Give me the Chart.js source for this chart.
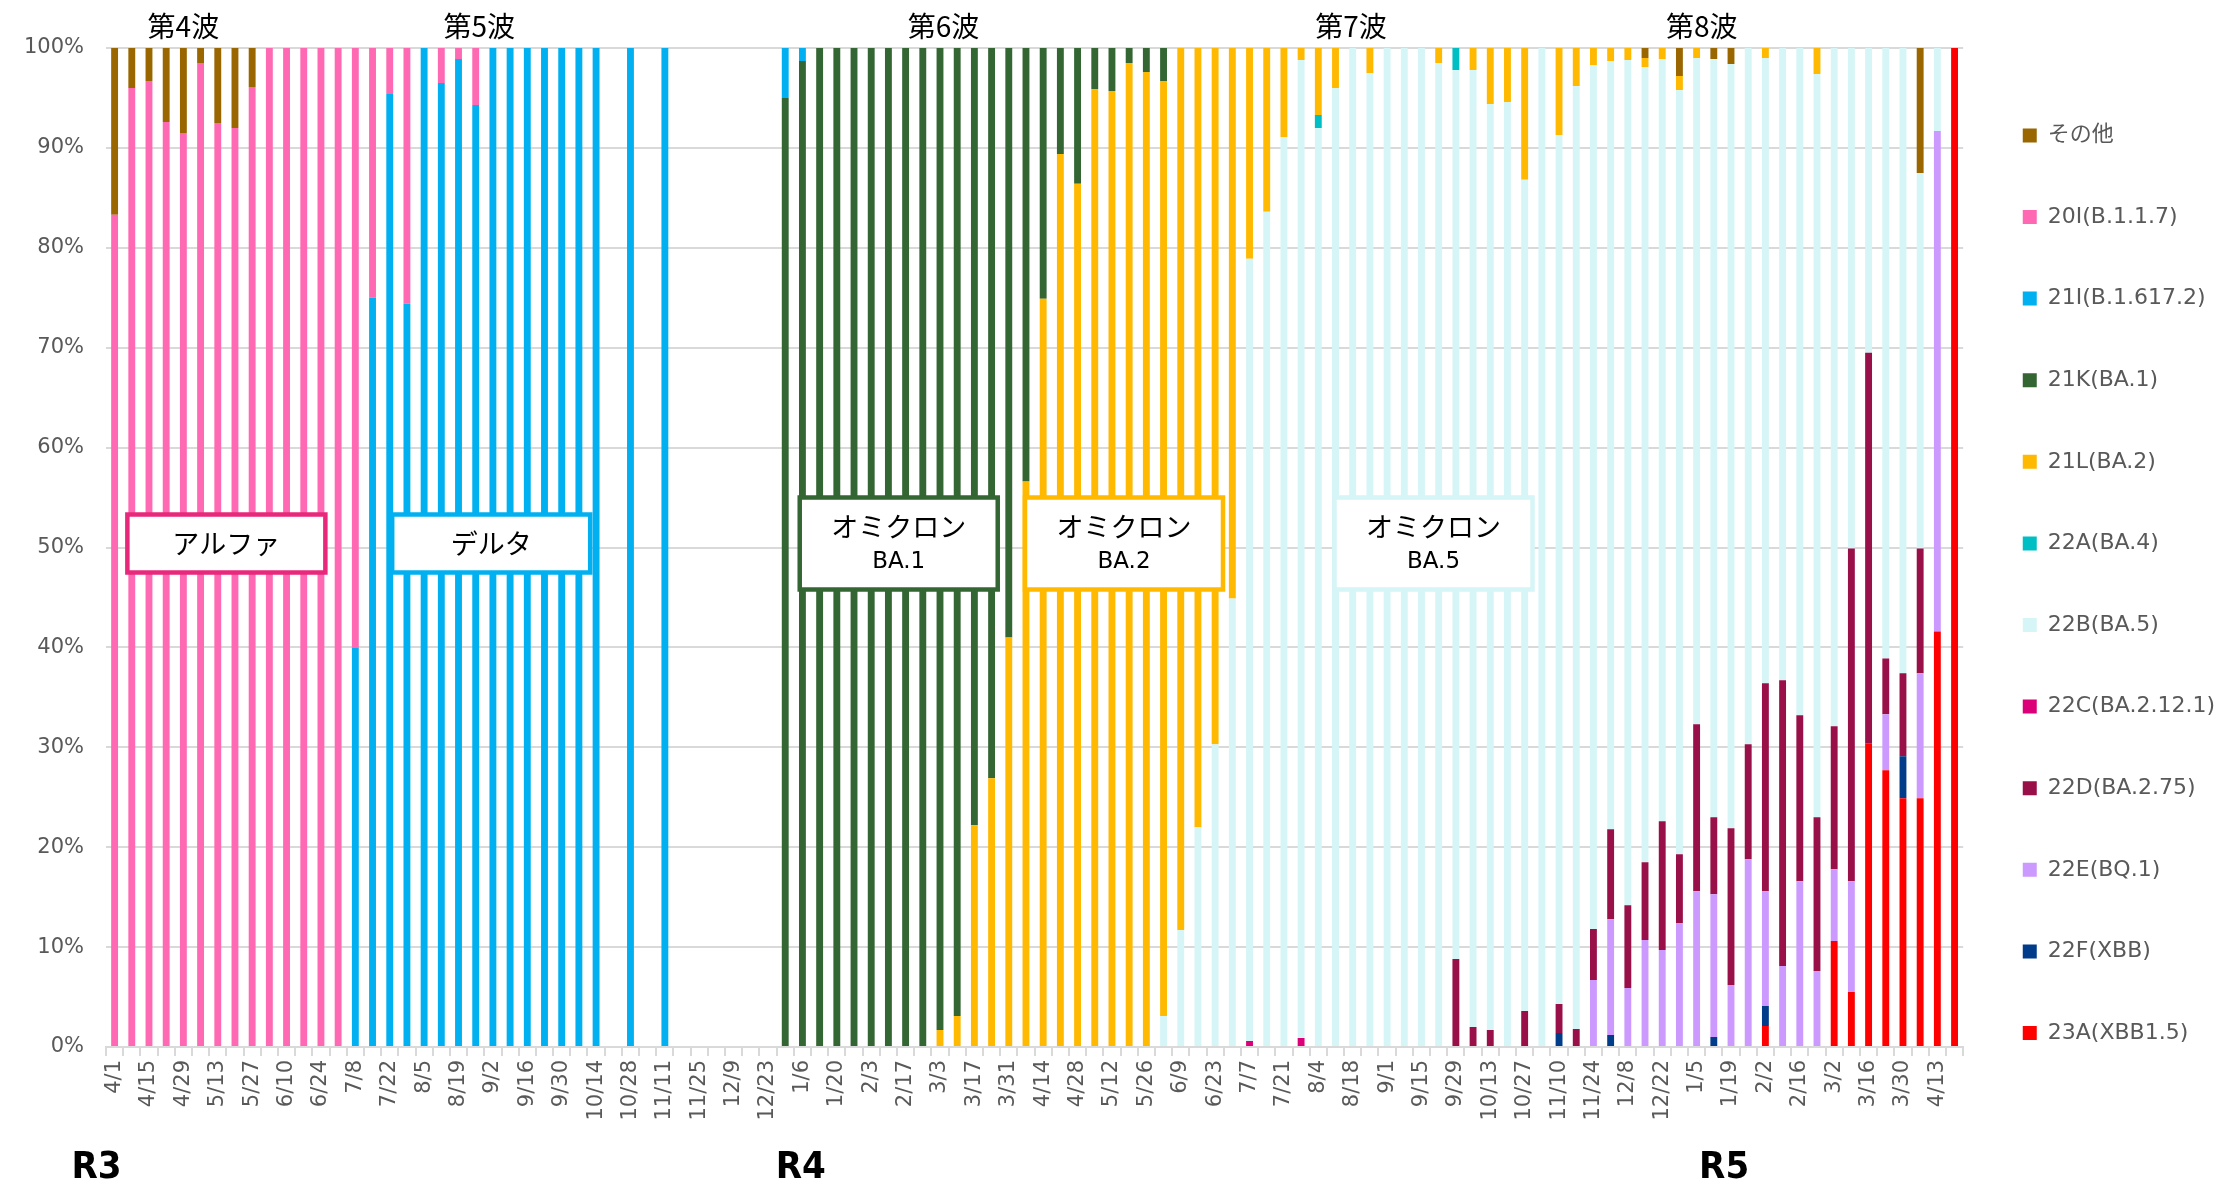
<!DOCTYPE html>
<html>
<head>
<meta charset="utf-8">
<script src="https://cdn.jsdelivr.net/npm/chart.js@4.4.0/dist/chart.umd.min.js"></script>
<style>
html, body { margin: 0; padding: 0; background: #fff; }
#caixa { width: 2225px; height: 1184px; }
</style>
</head>
<body>
<div id="caixa"><canvas id="grafVariantes"></canvas></div>
<script>
var n = null;

/* semanas (R3 4/1 ... R5 4/20) */
var semanas = [
  '4/1','4/8','4/15','4/22','4/29','5/6','5/13','5/20','5/27','6/3',
  '6/10','6/17','6/24','7/1','7/8','7/15','7/22','7/29','8/5','8/12',
  '8/19','8/26','9/2','9/9','9/16','9/23','9/30','10/7','10/14','10/21',
  '10/28','11/4','11/11','11/18','11/25','12/2','12/9','12/16','12/23','12/30',
  '1/6','1/13','1/20','1/27','2/3','2/10','2/17','2/24','3/3','3/10',
  '3/17','3/24','3/31','4/7','4/14','4/21','4/28','5/5','5/12','5/19',
  '5/26','6/2','6/9','6/16','6/23','6/30','7/7','7/14','7/21','7/28',
  '8/4','8/11','8/18','8/25','9/1','9/8','9/15','9/22','9/29','10/6',
  '10/13','10/20','10/27','11/3','11/10','11/17','11/24','12/1','12/8','12/15',
  '12/22','12/29','1/5','1/12','1/19','1/26','2/2','2/9','2/16','2/23',
  '3/2','3/9','3/16','3/23','3/30','4/6','4/13','4/20'
];

var yTicks = [0,10,20,30,40,50,60,70,80,90,100];

// その他
var outros = [
  16.7,4,3.3,7.4,8.5,1.5,7.5,8.0,3.9,n,
  n,n,n,n,n,n,n,n,n,n,
  n,n,n,n,n,n,n,n,n,n,
  n,n,n,n,n,n,n,n,n,n,
  n,n,n,n,n,n,n,n,n,n,
  n,n,n,n,n,n,n,n,n,n,
  n,n,n,n,n,n,n,n,n,n,
  n,n,n,n,n,n,n,n,n,n,
  n,n,n,n,n,n,n,n,n,1.0,
  n,2.8,n,1.1,1.6,n,n,n,n,n,
  n,n,n,n,n,12.5,n,n
];
// 20I(B.1.1.7)
var alfa = [
  83.3,96,96.7,92.6,91.5,98.5,92.5,92.0,96.1,100,
  100,100,100,100,60,25,4.6,25.6,n,3.5,
  1.1,5.7,n,n,n,n,n,n,n,n,
  n,n,n,n,n,n,n,n,n,n,
  n,n,n,n,n,n,n,n,n,n,
  n,n,n,n,n,n,n,n,n,n,
  n,n,n,n,n,n,n,n,n,n,
  n,n,n,n,n,n,n,n,n,n,
  n,n,n,n,n,n,n,n,n,n,
  n,n,n,n,n,n,n,n,n,n,
  n,n,n,n,n,n,n,n
];
// 21I(B.1.617.2)
var delta = [
  n,n,n,n,n,n,n,n,n,n,
  n,n,n,n,40,75,95.4,74.4,100,96.5,
  98.9,94.3,100,100,100,100,100,100,100,n,
  100,n,100,n,n,n,n,n,n,5,
  1.3,n,n,n,n,n,n,n,n,n,
  n,n,n,n,n,n,n,n,n,n,
  n,n,n,n,n,n,n,n,n,n,
  n,n,n,n,n,n,n,n,n,n,
  n,n,n,n,n,n,n,n,n,n,
  n,n,n,n,n,n,n,n,n,n,
  n,n,n,n,n,n,n,n
];
// 21K(BA.1)
var ba1 = [
  n,n,n,n,n,n,n,n,n,n,
  n,n,n,n,n,n,n,n,n,n,
  n,n,n,n,n,n,n,n,n,n,
  n,n,n,n,n,n,n,n,n,95,
  98.7,100,100,100,100,100,100,100,98.3,96.9,
  77.8,73.1,59,43.4,25.1,10.6,13.6,4.1,4.3,1.5,
  2.4,3.3,n,n,n,n,n,n,n,n,
  n,n,n,n,n,n,n,n,n,n,
  n,n,n,n,n,n,n,n,n,n,
  n,n,n,n,n,n,n,n,n,n,
  n,n,n,n,n,n,n,n
];
// 21L(BA.2)
var ba2 = [
  n,n,n,n,n,n,n,n,n,n,
  n,n,n,n,n,n,n,n,n,n,
  n,n,n,n,n,n,n,n,n,n,
  n,n,n,n,n,n,n,n,n,n,
  n,n,n,n,n,n,n,n,1.7,3.1,
  22.2,26.9,41,56.6,74.9,89.4,86.4,95.9,95.7,98.5,
  97.6,93.6,88.3,78,69.7,55.1,21.1,16.4,8.9,1.2,
  6.7,4.0,n,2.5,n,n,n,1.5,n,2.2,
  5.6,5.4,13.2,n,8.7,3.8,1.7,1.3,1.2,0.9,
  1.1,1.4,1.0,n,n,n,1.0,n,n,2.6,
  n,n,n,n,n,n,n,n
];
// 22A(BA.4)
var ba4 = [
  n,n,n,n,n,n,n,n,n,n,
  n,n,n,n,n,n,n,n,n,n,
  n,n,n,n,n,n,n,n,n,n,
  n,n,n,n,n,n,n,n,n,n,
  n,n,n,n,n,n,n,n,n,n,
  n,n,n,n,n,n,n,n,n,n,
  n,n,n,n,n,n,n,n,n,n,
  1.3,n,n,n,n,n,n,n,2.2,n,
  n,n,n,n,n,n,n,n,n,n,
  n,n,n,n,n,n,n,n,n,n,
  n,n,n,n,n,n,n,n
];
// 22B(BA.5)
var ba5 = [
  n,n,n,n,n,n,n,n,n,n,
  n,n,n,n,n,n,n,n,n,n,
  n,n,n,n,n,n,n,n,n,n,
  n,n,n,n,n,n,n,n,n,n,
  n,n,n,n,n,n,n,n,n,n,
  n,n,n,n,n,n,n,n,n,n,
  n,3.1,11.7,22.0,30.3,44.9,78.3,83.6,91.1,97.9,
  92.0,96.0,100,97.5,100,100,100,98.5,89.0,95.8,
  92.7,94.6,83.2,100,87.0,94.4,86.5,76.9,84.6,79.6,
  76.3,76.5,66.7,75.9,76.5,69.7,62.6,63.3,66.8,74.4,
  67.9,50.1,30.5,61.1,62.6,37.6,8.3,n
];
// 22C(BA.2.12.1)
var ba2121 = [
  n,n,n,n,n,n,n,n,n,n,
  n,n,n,n,n,n,n,n,n,n,
  n,n,n,n,n,n,n,n,n,n,
  n,n,n,n,n,n,n,n,n,n,
  n,n,n,n,n,n,n,n,n,n,
  n,n,n,n,n,n,n,n,n,n,
  n,n,n,n,n,n,0.6,n,n,0.9,
  n,n,n,n,n,n,n,n,n,n,
  n,n,n,n,n,n,n,n,n,n,
  n,n,n,n,n,n,n,n,n,n,
  n,n,n,n,n,n,n,n
];
// 22D(BA.2.75)
var ba275 = [
  n,n,n,n,n,n,n,n,n,n,
  n,n,n,n,n,n,n,n,n,n,
  n,n,n,n,n,n,n,n,n,n,
  n,n,n,n,n,n,n,n,n,n,
  n,n,n,n,n,n,n,n,n,n,
  n,n,n,n,n,n,n,n,n,n,
  n,n,n,n,n,n,n,n,n,n,
  n,n,n,n,n,n,n,n,8.8,2.0,
  1.7,n,3.6,n,2.9,1.8,5.1,9.0,8.3,7.8,
  12.9,6.9,16.7,7.7,15.7,11.5,20.8,28.6,16.6,15.4,
  14.3,33.3,39.1,5.6,8.3,12.5,n,n
];
// 22E(BQ.1)
var bq1 = [
  n,n,n,n,n,n,n,n,n,n,
  n,n,n,n,n,n,n,n,n,n,
  n,n,n,n,n,n,n,n,n,n,
  n,n,n,n,n,n,n,n,n,n,
  n,n,n,n,n,n,n,n,n,n,
  n,n,n,n,n,n,n,n,n,n,
  n,n,n,n,n,n,n,n,n,n,
  n,n,n,n,n,n,n,n,n,n,
  n,n,n,n,n,n,6.7,11.6,5.9,10.7,
  9.7,12.4,15.6,14.3,6.2,18.8,11.5,8.1,16.6,7.6,
  7.2,11.1,n,5.6,n,12.5,50.1,n
];
// 22F(XBB)
var xbb = [
  n,n,n,n,n,n,n,n,n,n,
  n,n,n,n,n,n,n,n,n,n,
  n,n,n,n,n,n,n,n,n,n,
  n,n,n,n,n,n,n,n,n,n,
  n,n,n,n,n,n,n,n,n,n,
  n,n,n,n,n,n,n,n,n,n,
  n,n,n,n,n,n,n,n,n,n,
  n,n,n,n,n,n,n,n,n,n,
  n,n,n,n,1.4,n,n,1.2,n,n,
  n,n,n,1.0,n,n,2.0,n,n,n,
  n,n,n,n,4.2,n,n,n
];
// 23A(XBB1.5)
var xbb15 = [
  n,n,n,n,n,n,n,n,n,n,
  n,n,n,n,n,n,n,n,n,n,
  n,n,n,n,n,n,n,n,n,n,
  n,n,n,n,n,n,n,n,n,n,
  n,n,n,n,n,n,n,n,n,n,
  n,n,n,n,n,n,n,n,n,n,
  n,n,n,n,n,n,n,n,n,n,
  n,n,n,n,n,n,n,n,n,n,
  n,n,n,n,n,n,n,n,n,n,
  n,n,n,n,n,n,2.1,n,n,n,
  10.6,5.5,30.4,27.7,24.9,24.9,41.6,100
];

/* caixas de texto e rotulos */
var caixas = [
  {linhas: ['アルファ'], i: 6.5, v: 50.4, w: 198, h: 58, cor: '#E8287A'},
  {linhas: ['デルタ'], i: 21.9, v: 50.4, w: 198, h: 58, cor: '#00B0F0'},
  {linhas: ['オミクロン', 'BA.1'], i: 45.6, v: 50.4, w: 198, h: 92, cor: '#336633'},
  {linhas: ['オミクロン', 'BA.2'], i: 58.7, v: 50.4, w: 198, h: 92, cor: '#FFB900'},
  {linhas: ['オミクロン', 'BA.5'], i: 76.7, v: 50.4, w: 198, h: 92, cor: '#D6F5F6'}
];
var ondas = [['第4波', 4.0], ['第5波', 21.2], ['第6波', 48.2], ['第7波', 71.9], ['第8波', 92.3]];
var anos = [['R3', -1.05], ['R4', 39.9], ['R5', 93.6]];

var anotacoes = {
  id: 'anotacoes',
  afterDatasetsDraw: function(chart) {
    var ctx = chart.ctx, sx = chart.scales.x, sy = chart.scales.y;
    ctx.save();
    ctx.textAlign = 'center';
    ctx.textBaseline = 'middle';
    caixas.forEach(function(c) {
      var cx = sx.getPixelForValue(c.i), cy = sy.getPixelForValue(c.v);
      ctx.fillStyle = '#fff';
      ctx.fillRect(cx - c.w / 2, cy - c.h / 2, c.w, c.h);
      ctx.strokeStyle = c.cor;
      ctx.lineWidth = 4.5;
      ctx.strokeRect(cx - c.w / 2, cy - c.h / 2, c.w, c.h);
      ctx.fillStyle = '#000';
      if (c.linhas.length == 1) {
        ctx.font = '27px "Noto Sans CJK JP"';
        ctx.fillText(c.linhas[0], cx, cy);
      } else {
        ctx.font = '27px "Noto Sans CJK JP"';
        ctx.fillText(c.linhas[0], cx, cy - 17);
        ctx.font = '23px "DejaVu Sans"';
        ctx.fillText(c.linhas[1], cx, cy + 19);
      }
    });
    ctx.fillStyle = '#000';
    ctx.font = '28px "Noto Sans CJK JP"';
    ondas.forEach(function(o) {
      ctx.fillText(o[0], sx.getPixelForValue(o[1]), 26);
    });
    ctx.font = 'bold 38px "Liberation Sans Narrow", "DejaVu Sans Condensed", sans-serif';
    anos.forEach(function(a) {
      ctx.fillText(a[0], sx.getPixelForValue(a[1]), 1168);
    });
    ctx.restore();
  }
};

Chart.defaults.font.family = '"DejaVu Sans", "Noto Sans CJK JP", sans-serif';

function serie(nome, dados, cor) {
  return {label: nome, data: dados, backgroundColor: cor, borderWidth: 0,
          barPercentage: 0.4, categoryPercentage: 1.0};
}

var ctxVar = document.getElementById('grafVariantes').getContext('2d');
var grafico = new Chart(ctxVar, {
  type: 'bar',
  data: {
    labels: semanas,
    datasets: [
      serie('23A(XBB1.5)', xbb15, '#FF0000'),
      serie('22F(XBB)', xbb, '#003C8A'),
      serie('22E(BQ.1)', bq1, '#CC99FF'),
      serie('22D(BA.2.75)', ba275, '#990F48'),
      serie('22C(BA.2.12.1)', ba2121, '#DC0078'),
      serie('22B(BA.5)', ba5, '#D6F5F6'),
      serie('22A(BA.4)', ba4, '#00BFC4'),
      serie('21L(BA.2)', ba2, '#FFB900'),
      serie('21K(BA.1)', ba1, '#336633'),
      serie('21I(B.1.617.2)', delta, '#00B0F0'),
      serie('20I(B.1.1.7)', alfa, '#FF69B4'),
      serie('その他', outros, '#996600')
    ]
  },
  options: {
    responsive: true,
    maintainAspectRatio: false,
    animation: false,
    layout: {padding: {top: 48, left: 0, right: 0, bottom: 0}},
    plugins: {
      legend: {
        position: 'right',
        align: 'start',
        reverse: true,
        title: {display: true, text: ' ', padding: 0, font: {size: 14}},
        labels: {boxWidth: 14, boxHeight: 14, padding: 59.6, color: '#595959', font: {size: 22}}
      },
      tooltip: {enabled: false}
    },
    scales: {
      x: {
        stacked: true,
        grid: {drawOnChartArea: false, drawTicks: true, tickLength: 9, color: '#d9d9d9', lineWidth: 2},
        border: {display: true, color: '#d9d9d9', width: 2},
        ticks: {
          autoSkip: false, maxRotation: 90, minRotation: 90, padding: 4,
          color: '#595959', font: {size: 21},
          callback: function(v, i) { return i % 2 == 0 ? semanas[i] : ''; }
        },
        afterFit: function(s) { s.height = 137; }
      },
      y: {
        stacked: true, min: 0, max: 100,
        afterBuildTicks: function(s) { s.ticks = yTicks.map(function(v) { return {value: v}; }); },
        ticks: {padding: 22, color: '#595959', font: {size: 21},
                callback: function(v) { return v + '%'; }},
        grid: {color: '#d9d9d9', lineWidth: 2, drawTicks: false},
        border: {display: false},
        afterFit: function(s) { s.width = 106; }
      }
    }
  },
  plugins: [anotacoes]
});
</script>
</body>
</html>
